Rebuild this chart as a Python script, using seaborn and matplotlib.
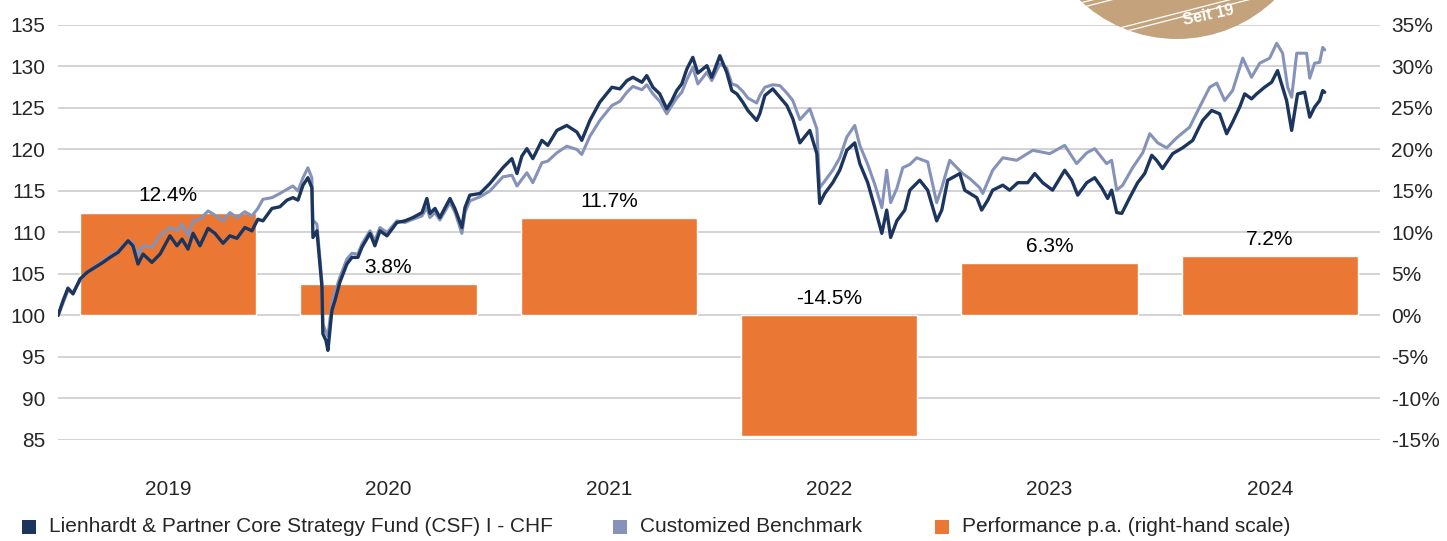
import numpy as np
import pandas as pd
import matplotlib
matplotlib.use("Agg")
import matplotlib.pyplot as plt
import seaborn as sns
from matplotlib.patches import Ellipse, Rectangle
from matplotlib.lines import Line2D

# %%
years = ["2019", "2020", "2021", "2022", "2023", "2024"]
perf_pa = [12.4, 3.8, 11.7, -14.5, 6.3, 7.2]

# time in years since 1 Jan 2019, indexed values (start = 100)
fund_t = [0.000, 0.023, 0.045, 0.068, 0.100, 0.132, 0.168, 0.204, 0.236, 0.272,
          0.318, 0.340, 0.363, 0.386, 0.426, 0.463, 0.508, 0.540, 0.563, 0.590,
          0.613, 0.644, 0.681, 0.712, 0.749, 0.780, 0.812, 0.848, 0.880, 0.907,
          0.930, 0.971, 1.007, 1.039, 1.066, 1.089, 1.112, 1.134, 1.152, 1.157,
          1.175, 1.198, 1.202, 1.216, 1.225, 1.243, 1.257, 1.279, 1.311, 1.334,
          1.361, 1.379, 1.416, 1.438, 1.461, 1.493, 1.538, 1.574, 1.611, 1.652,
          1.674, 1.688, 1.711, 1.733, 1.779, 1.801, 1.833, 1.847, 1.869, 1.915,
          1.960, 2.019, 2.060, 2.083, 2.105, 2.128, 2.155, 2.196, 2.223, 2.264,
          2.309, 2.355, 2.377, 2.414, 2.459, 2.514, 2.550, 2.582, 2.609, 2.650,
          2.672, 2.700, 2.731, 2.763, 2.786, 2.808, 2.831, 2.854, 2.881, 2.904,
          2.945, 2.967, 3.004, 3.035, 3.058, 3.081, 3.108, 3.131, 3.171, 3.185,
          3.208, 3.244, 3.276, 3.308, 3.335, 3.367, 3.412, 3.444, 3.457, 3.480,
          3.516, 3.548, 3.580, 3.616, 3.639, 3.675, 3.707, 3.739, 3.761, 3.779,
          3.807, 3.843, 3.866, 3.911, 3.947, 3.988, 4.011, 4.038, 4.093, 4.115,
          4.170, 4.192, 4.220, 4.242, 4.288, 4.319, 4.356, 4.401, 4.433, 4.469,
          4.514, 4.569, 4.601, 4.628, 4.669, 4.705, 4.737, 4.764, 4.782, 4.805,
          4.828, 4.864, 4.900, 4.932, 4.964, 4.986, 5.013, 5.059, 5.104, 5.150,
          5.172, 5.195, 5.236, 5.272, 5.304, 5.331, 5.363, 5.386, 5.417, 5.440,
          5.476, 5.508, 5.535, 5.558, 5.576, 5.599, 5.626, 5.658, 5.681, 5.703,
          5.726, 5.740, 5.749]
fund_val = [100.0, 101.8, 103.3, 102.6, 104.4, 105.2, 105.8, 106.4, 107.0, 107.6,
            109.0, 108.4, 106.2, 107.4, 106.4, 107.4, 109.6, 108.4, 109.2, 108.0,
            109.9, 108.4, 110.5, 109.9, 108.7, 109.6, 109.3, 110.6, 110.2, 111.6,
            111.4, 112.9, 113.1, 113.9, 114.2, 113.9, 115.7, 116.6, 115.4, 109.4,
            110.2, 103.4, 97.8, 97.0, 95.8, 100.6, 101.8, 104.0, 106.2, 107.0,
            107.0, 108.2, 109.9, 108.4, 110.2, 109.6, 111.2, 111.4, 111.8, 112.4,
            114.1, 112.3, 112.9, 111.8, 114.1, 112.9, 110.6, 113.0, 114.5, 114.7,
            115.9, 117.8, 118.9, 117.1, 119.2, 120.1, 118.9, 121.1, 120.5, 122.3,
            122.9, 122.1, 121.1, 123.5, 125.7, 127.5, 127.3, 128.3, 128.7, 128.1,
            128.9, 127.5, 126.7, 124.9, 125.9, 127.1, 127.9, 129.7, 131.1, 129.2,
            130.1, 128.7, 131.3, 129.3, 127.1, 126.7, 125.7, 124.7, 123.5, 124.3,
            126.5, 127.3, 126.3, 125.3, 123.7, 120.8, 122.3, 119.5, 113.5, 114.7,
            116.0, 117.5, 119.9, 120.8, 118.3, 116.0, 113.0, 109.9, 112.7, 109.4,
            111.4, 112.7, 115.1, 116.3, 115.1, 111.4, 112.7, 116.3, 117.1, 115.1,
            114.2, 112.7, 113.9, 115.1, 115.7, 115.1, 116.0, 116.0, 117.1, 116.0,
            115.1, 117.5, 116.3, 114.5, 116.0, 116.6, 115.4, 114.1, 115.1, 112.4,
            112.3, 114.2, 116.0, 117.1, 119.3, 118.7, 117.7, 119.5, 120.2, 121.1,
            122.3, 123.5, 124.7, 124.3, 121.9, 123.3, 125.1, 126.7, 126.1, 126.7,
            127.5, 128.1, 129.5, 127.5, 125.9, 122.3, 126.7, 126.9, 123.9, 125.1,
            125.9, 127.1, 126.9]

bench_t = [0.000, 0.023, 0.045, 0.068, 0.100, 0.132, 0.168, 0.204, 0.236, 0.272,
           0.318, 0.340, 0.363, 0.386, 0.426, 0.463, 0.508, 0.540, 0.563, 0.590,
           0.613, 0.644, 0.681, 0.712, 0.749, 0.780, 0.812, 0.848, 0.880, 0.907,
           0.930, 0.971, 1.007, 1.039, 1.066, 1.089, 1.112, 1.134, 1.152, 1.157,
           1.175, 1.198, 1.202, 1.216, 1.225, 1.243, 1.257, 1.279, 1.311, 1.334,
           1.361, 1.379, 1.416, 1.438, 1.461, 1.493, 1.538, 1.574, 1.611, 1.652,
           1.674, 1.688, 1.711, 1.733, 1.779, 1.801, 1.833, 1.847, 1.869, 1.915,
           1.960, 2.019, 2.060, 2.083, 2.105, 2.128, 2.155, 2.196, 2.223, 2.264,
           2.309, 2.355, 2.377, 2.414, 2.459, 2.514, 2.550, 2.582, 2.609, 2.650,
           2.672, 2.700, 2.731, 2.763, 2.786, 2.808, 2.831, 2.854, 2.881, 2.904,
           2.945, 2.967, 3.004, 3.035, 3.058, 3.081, 3.108, 3.131, 3.171, 3.185,
           3.208, 3.244, 3.276, 3.308, 3.335, 3.367, 3.412, 3.444, 3.457, 3.480,
           3.516, 3.548, 3.580, 3.616, 3.639, 3.675, 3.707, 3.739, 3.761, 3.779,
           3.807, 3.834, 3.866, 3.897, 3.947, 3.988, 4.011, 4.047, 4.106, 4.138,
           4.183, 4.197, 4.242, 4.288, 4.351, 4.424, 4.501, 4.569, 4.623, 4.669,
           4.705, 4.759, 4.782, 4.805, 4.832, 4.877, 4.923, 4.955, 4.991, 5.032,
           5.077, 5.136, 5.181, 5.227, 5.259, 5.295, 5.331, 5.377, 5.417, 5.454,
           5.499, 5.531, 5.558, 5.581, 5.599, 5.622, 5.667, 5.681, 5.703, 5.726,
           5.740, 5.749]
bench_val = [100.0, 101.5, 103.0, 102.8, 104.2, 105.3, 105.9, 106.6, 107.2, 107.8,
             109.0, 108.7, 107.3, 108.4, 108.2, 109.6, 110.6, 110.2, 111.0, 109.6,
             111.4, 111.6, 112.6, 112.1, 111.4, 112.4, 111.8, 112.5, 112.0, 112.9,
             114.0, 114.2, 114.7, 115.2, 115.6, 115.0, 116.6, 117.8, 116.6, 111.5,
             111.0, 104.0, 99.0, 98.0, 97.5, 101.5, 102.8, 104.6, 106.8, 107.5,
             107.4, 108.6, 110.2, 109.0, 110.6, 110.0, 111.4, 111.2, 111.6, 112.0,
             113.0, 111.8, 112.4, 111.5, 113.6, 112.5, 109.9, 112.4, 113.8, 114.3,
             115.0, 116.7, 116.9, 115.6, 116.4, 117.2, 116.0, 118.4, 118.6, 119.6,
             120.4, 120.0, 119.4, 121.6, 123.5, 125.3, 125.8, 126.9, 127.6, 127.2,
             127.8, 126.7, 125.8, 124.3, 125.3, 126.2, 126.9, 128.4, 129.9, 127.9,
             129.3, 128.3, 130.3, 129.8, 127.9, 127.7, 127.0, 126.2, 125.6, 126.5,
             127.5, 127.8, 127.7, 126.8, 125.9, 123.6, 124.9, 122.5, 115.4, 116.2,
             117.5, 119.0, 121.5, 122.9, 120.5, 118.2, 115.8, 113.0, 117.5, 113.6,
             115.3, 117.8, 118.2, 119.0, 118.5, 113.6, 115.4, 118.7, 117.1, 116.5,
             115.4, 114.7, 117.5, 119.0, 118.7, 119.9, 119.5, 120.5, 118.3, 119.6,
             120.1, 118.3, 118.7, 115.1, 115.7, 117.8, 119.6, 121.9, 120.8, 120.2,
             121.4, 122.7, 125.1, 127.5, 128.0, 125.9, 127.1, 131.0, 128.7, 130.4,
             131.0, 132.8, 131.6, 127.5, 126.3, 131.6, 131.6, 128.6, 130.4, 130.5,
             132.3, 132.0]

fund_label = "Lienhardt & Partner Core Strategy Fund (CSF) I - CHF"
bench_label = "Customized Benchmark"
bar_label = "Performance p.a. (right-hand scale)"

fund_color = "#1C355E"
bench_color = "#8593BA"
bar_color = "#EA7733"
grid_color = "#C8C8C8"
fs = 15

# %%
sns.set_theme(style="white")
plt.rcParams["font.family"] = ["Liberation Sans", "DejaVu Sans"]

fig = plt.figure(figsize=(14.47, 5.41), dpi=100)
ax = fig.add_axes([0.0401, 0.1867, 0.9136, 0.7671])
ax2 = ax.twinx()

# bars on the right-hand scale
df_bars = pd.DataFrame({"year": years, "perf": perf_pa})
sns.barplot(data=df_bars, x="year", y="perf", color=bar_color, saturation=1,
            width=0.8, ax=ax2, zorder=2)
for i, v in enumerate(perf_pa):
    ax2.text(i, max(v, 0) + 2.0, f"{v:.1f}%", ha="center", va="center", fontsize=fs,
             color="black", zorder=3)

ax2.set_ylim(-15, 35)
ax2.set_yticks(np.arange(-15, 36, 5))
ax2.set_yticklabels([f"{t}%" for t in range(-15, 36, 5)])
ax2.grid(axis="y", color=grid_color, linewidth=1.1)
ax2.grid(axis="x", visible=False)
ax2.set_axisbelow(True)
ax2.set_ylabel("")
ax2.tick_params(axis="y", length=0, pad=8, labelsize=fs)

# lines on the left-hand scale, drawn above the bars
df_fund = pd.DataFrame({"x": np.array(fund_t) - 0.5, "v": fund_val})
df_bench = pd.DataFrame({"x": np.array(bench_t) - 0.5, "v": bench_val})
sns.lineplot(data=df_bench, x="x", y="v", color=bench_color, linewidth=2.2, ax=ax)
sns.lineplot(data=df_fund, x="x", y="v", color=fund_color, linewidth=2.4, ax=ax)

ax.set_zorder(ax2.get_zorder() + 1)
ax.patch.set_visible(False)
ax.set_ylim(85, 135)
ax.set_yticks(np.arange(85, 136, 5))
ax.set_xlim(-0.5, 5.5)
ax.set_xticks(range(len(years)))
ax.set_xticklabels(years)
ax.set_xlabel("")
ax.set_ylabel("")
ax.grid(False)
ax.tick_params(axis="y", length=0, pad=9, labelsize=fs)
ax.tick_params(axis="x", length=0, pad=29, labelsize=fs)

for a in (ax, ax2):
    for s in a.spines.values():
        s.set_visible(False)

# legend along the bottom
legend_items = [(0.0152, fund_color, fund_label),
                (0.4236, bench_color, bench_label),
                (0.6461, bar_color, bar_label)]
for lx, c, txt in legend_items:
    fig.patches.append(Rectangle((lx, 0.0135), 0.0095, 0.0245, transform=fig.transFigure,
                                 facecolor=c, edgecolor="none"))
    fig.text(lx + 0.019, 0.026, txt, fontsize=fs, va="center", ha="left")

# partial logo in the top right corner
logo = Ellipse((1177 / 1447, 1 + 102 / 541), 282 / 1447, 282 / 541,
               transform=fig.transFigure, facecolor="#C4A27B", edgecolor="none")
fig.patches.append(logo)
for y0, y1 in [(0.990, 1.100), (0.981, 1.091), (0.925, 1.035), (0.916, 1.026)]:
    ln = Line2D([0.74, 0.90], [y0, y1], transform=fig.transFigure,
                color="white", linewidth=0.9)
    ln.set_clip_path(logo)
    fig.lines.append(ln)
fig.text(0.835, 0.972, "Seit 19", color="white", fontsize=11.5, fontweight="bold",
         rotation=12, ha="center", va="center")

fig.savefig("out.png", dpi=100)
